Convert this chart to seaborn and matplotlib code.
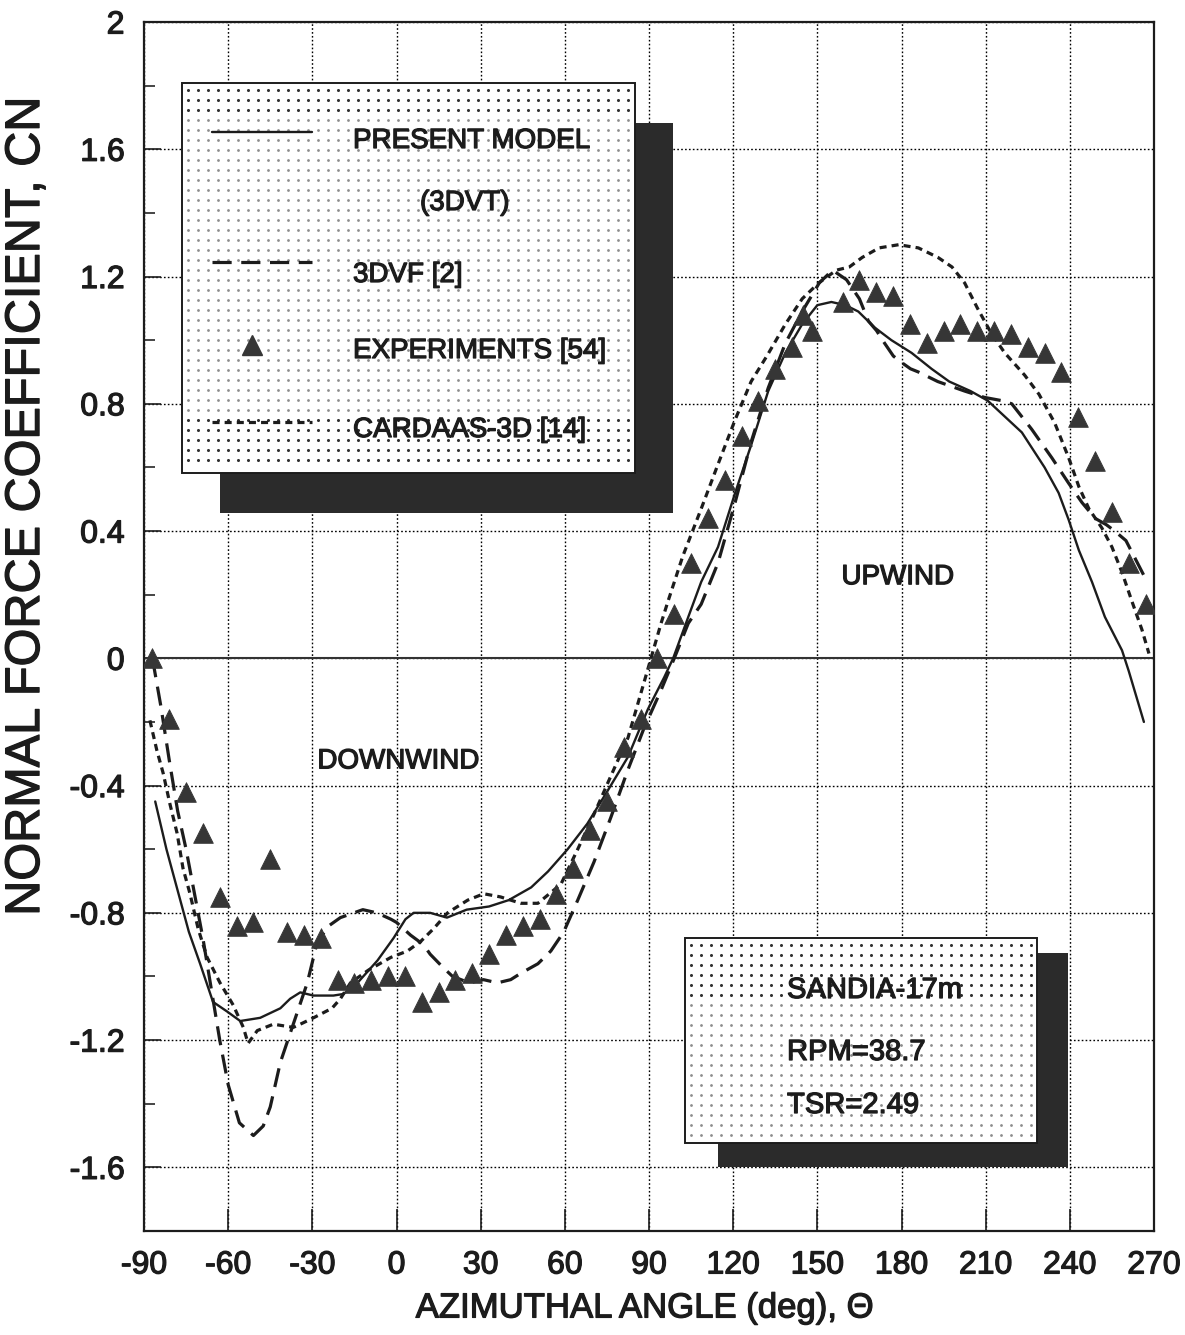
import numpy as np
import pandas as pd
import matplotlib
matplotlib.use("Agg")
import matplotlib.pyplot as plt
import matplotlib.patheffects as pe
from matplotlib.patches import Rectangle
from matplotlib.lines import Line2D
import seaborn as sns

# ---------------------------------------------------------------------------
# Normal force coefficient vs. azimuthal angle, Sandia 17 m rotor
# ---------------------------------------------------------------------------
present_theta = [-86, -82, -78, -74, -70, -65.4, -60.4, -55.7, -48.6, -41.4,
                 -37.9, -34.3, -29.6, -22.5, -18.9, -13.9, -6.8, -1.1, 3.2,
                 6.1, 12, 18, 25, 33, 40, 48, 54, 61, 68, 75, 82.5, 89.6,
                 95.4, 98.6, 104, 108.6, 114.6, 120.7, 126.4, 132.5, 138.6,
                 144.6, 150, 155, 160, 164.6, 170.4, 176.4, 183.6, 190.7,
                 197, 204.6, 210.7, 216.8, 222.9, 231, 236, 239.6, 243.2,
                 247.9, 252.5, 258.6, 261, 266.4]
present_cn = [-0.45, -0.60, -0.73, -0.86, -0.96, -1.08, -1.11, -1.14, -1.13,
              -1.10, -1.07, -1.05, -1.06, -1.06, -1.055, -1.02, -0.95, -0.88,
              -0.82, -0.80, -0.80, -0.815, -0.79, -0.78, -0.76, -0.72, -0.67,
              -0.60, -0.52, -0.42, -0.31, -0.16, -0.06, 0.0, 0.13, 0.24, 0.35,
              0.52, 0.67, 0.84, 0.96, 1.05, 1.11, 1.12, 1.11, 1.09, 1.04, 1.00,
              0.96, 0.91, 0.87, 0.84, 0.81, 0.76, 0.71, 0.60, 0.52, 0.435,
              0.34, 0.24, 0.13, 0.025, -0.04, -0.20]

vf_theta = [-87, -84, -81, -78, -75, -72, -69, -66, -63, -60, -56, -51, -47.5,
            -45, -41.4, -36.8, -31.8, -28.2, -24, -20, -12, -7, -2, 0, 5, 9.6,
            12, 16.4, 20, 26, 31, 36, 40.7, 44.3, 50.4, 55, 59.6, 64.6, 70.4,
            76.4, 82.5, 88.2, 94.3, 99, 104, 108.6, 114.6, 120.7, 126.4,
            132.5, 138.6, 144.6, 150.7, 155.4, 160.4, 165, 168.2, 171.1, 174,
            177.1, 180, 183.2, 186, 192.9, 202.5, 209.6, 215.7, 219.3, 226.4,
            233.6, 239.6, 244.3, 249, 253, 256, 260, 267]
vf_cn = [0.0, -0.15, -0.32, -0.48, -0.60, -0.74, -0.88, -1.04, -1.20, -1.34,
         -1.46, -1.50, -1.47, -1.41, -1.27, -1.15, -1.02, -0.89, -0.84, -0.815,
         -0.79, -0.80, -0.82, -0.83, -0.87, -0.90, -0.93, -0.97, -1.00, -1.02,
         -1.01, -1.02, -1.01, -0.99, -0.96, -0.92, -0.86, -0.76, -0.64, -0.50,
         -0.35, -0.22, -0.10, 0.0, 0.11, 0.17, 0.30, 0.49, 0.68, 0.85, 0.99,
         1.09, 1.18, 1.22, 1.19, 1.13, 1.06, 1.03, 0.99, 0.95, 0.93, 0.91,
         0.90, 0.87, 0.84, 0.82, 0.81, 0.80, 0.72, 0.63, 0.55, 0.49, 0.44,
         0.42, 0.40, 0.37, 0.25]

cardaas_theta = [-87.9, -85.4, -83.2, -80.7, -78.2, -76.1, -73.6, -70.7, -67.5,
                 -62.9, -58.2, -54.6, -52.9, -49.6, -43.9, -36.8, -34.3, -29.6,
                 -23, -20, -16.4, -10, -2, 3.9, 8.6, 13.2, 18.2, 25.4, 31.1,
                 37.1, 44.3, 50.4, 58.6, 64.6, 70.4, 76.4, 82.5, 87.1, 90.7,
                 94.3, 96.8, 102, 108.6, 114.6, 120.7, 126.4, 132, 138.6,
                 144.6, 150.5, 156.8, 161.4, 166, 172, 179, 186, 193, 198,
                 202.5, 207.1, 212.1, 216.8, 223.9, 229, 234.6, 239.6, 243.2,
                 246.8, 251.4, 255, 258.6, 262.1, 265.7, 268.2]
cardaas_cn = [-0.195, -0.29, -0.36, -0.46, -0.55, -0.66, -0.74, -0.85, -0.94,
              -1.02, -1.09, -1.16, -1.21, -1.17, -1.15, -1.16, -1.15, -1.13,
              -1.10, -1.07, -1.02, -0.98, -0.94, -0.92, -0.89, -0.85, -0.80,
              -0.76, -0.74, -0.75, -0.77, -0.77, -0.71, -0.60, -0.49, -0.37,
              -0.25, -0.11, 0.0, 0.11, 0.18, 0.32, 0.47, 0.61, 0.75, 0.87, 0.95,
              1.05, 1.13, 1.18, 1.22, 1.23, 1.26, 1.29, 1.30, 1.29, 1.26, 1.23,
              1.18, 1.10, 1.02, 0.96, 0.89, 0.83, 0.74, 0.63, 0.54, 0.47, 0.41,
              0.35, 0.27, 0.18, 0.09, 0.015]

exp_theta = [-87, -81, -75, -69, -63, -57, -51, -45, -39, -33, -27, -21, -15,
             -9, -3, 3, 9, 15, 21, 27, 33, 39, 45, 51, 57, 63, 69, 75, 81, 87,
             93, 99, 105, 111, 117, 123, 129, 135, 141, 145, 148, 159, 165,
             171, 177, 183, 189, 195, 201, 207, 213, 219, 225, 231, 237, 243,
             249, 255, 261, 267]
exp_cn = [0.00, -0.19, -0.42, -0.55, -0.75, -0.84, -0.83, -0.63, -0.86, -0.87,
          -0.88, -1.01, -1.02, -1.01, -1.00, -1.00, -1.08, -1.05, -1.01, -0.99,
          -0.93, -0.87, -0.84, -0.82, -0.74, -0.66, -0.54, -0.45, -0.28, -0.19,
          0.00, 0.14, 0.30, 0.44, 0.56, 0.70, 0.81, 0.91, 0.98, 1.08, 1.03,
          1.12, 1.19, 1.15, 1.14, 1.05, 0.99, 1.03, 1.05, 1.03, 1.03, 1.02,
          0.98, 0.96, 0.90, 0.76, 0.62, 0.46, 0.30, 0.17]

x_ticks = [-90, -60, -30, 0, 30, 60, 90, 120, 150, 180, 210, 240, 270]
y_ticks = [-1.6, -1.2, -0.8, -0.4, 0, 0.4, 0.8, 1.2, 1.6, 2.0]
y_tick_labels = ["-1.6", "-1.2", "-0.8", "-0.4", "0", "0.4", "0.8", "1.2",
                 "1.6", "2"]
y_minor = [-1.4, -1.0, -0.6, -0.2, 0.2, 0.6, 1.0, 1.4, 1.8]

legend_labels = ["PRESENT MODEL", "(3DVT)", "3DVF [2]", "EXPERIMENTS [54]",
                 "CARDAAS-3D [14]"]
case_lines = ["SANDIA-17m", "RPM=38.7", "TSR=2.49"]

# ---------------------------------------------------------------------------
sns.set_style("ticks")
plt.rcParams["font.family"] = ["Liberation Sans", "DejaVu Sans"]

ink = "#1c1c1c"
heavy = [pe.withStroke(linewidth=0.9, foreground=ink)]

W, H = 1185, 1335
AX_L, AX_R, AX_T, AX_B = 144, 1154, 22, 1231
fig = plt.figure(figsize=(W / 100, H / 100), dpi=100)
ax = fig.add_axes([AX_L / W, 1 - AX_B / H, (AX_R - AX_L) / W,
                   (AX_B - AX_T) / H])


def to_axes(px, py):
    """Pixel position on the page -> axes fraction."""
    return (np.asarray(px, float) - AX_L) / (AX_R - AX_L), \
        (AX_B - np.asarray(py, float)) / (AX_B - AX_T)


df_present = pd.DataFrame({"theta": present_theta, "cn": present_cn})
df_vf = pd.DataFrame({"theta": vf_theta, "cn": vf_cn})
df_card = pd.DataFrame({"theta": cardaas_theta, "cn": cardaas_cn})
df_exp = pd.DataFrame({"theta": exp_theta, "cn": exp_cn})

ax.axhline(0, color="#333333", lw=1.5, zorder=1.5)

dash_long = (0, (6, 3))
dash_short = (0, (2.2, 1.6))

sns.lineplot(data=df_present, x="theta", y="cn", ax=ax, sort=False,
             estimator=None, color=ink, lw=1.7, zorder=2)
sns.lineplot(data=df_vf, x="theta", y="cn", ax=ax, sort=False,
             estimator=None, color=ink, lw=2.3, linestyle=dash_long, zorder=2)
sns.lineplot(data=df_card, x="theta", y="cn", ax=ax, sort=False,
             estimator=None, color=ink, lw=2.3, linestyle=dash_short, zorder=2)
sns.scatterplot(data=df_exp, x="theta", y="cn", ax=ax, marker="^", s=200,
                color="#363636", edgecolor="#363636", linewidth=0.6, zorder=3)

ax.set_xlim(-90, 270)
ax.set_ylim(-1.8, 2.0)
ax.set_xticks(x_ticks)
ax.set_xticklabels([str(v) for v in x_ticks])
ax.set_yticks(y_ticks)
ax.set_yticklabels(y_tick_labels)
ax.set_yticks(y_minor, minor=True)

ax.set_axisbelow(True)
ax.grid(True, which="major", color="black", lw=1.0, linestyle=(0, (1.2, 1.6)))
ax.grid(False, which="minor")

ax.tick_params(axis="x", which="major", direction="in", length=16, width=1.2,
               pad=14, labelsize=23, colors=ink, bottom=True, top=False)
ax.tick_params(axis="y", which="major", direction="in", length=12, width=1.2,
               pad=14, labelsize=23, colors=ink, left=True, right=False)
ax.tick_params(axis="y", which="minor", direction="in", length=8, width=1.2,
               left=True, right=False)
for lab in ax.get_xticklabels() + ax.get_yticklabels():
    lab.set_path_effects(heavy)

for sp in ax.spines.values():
    sp.set_visible(True)
    sp.set_color(ink)
    sp.set_linewidth(1.6)

ax.set_xlabel("AZIMUTHAL ANGLE (deg), \u0398", fontsize=25, color=ink,
              path_effects=heavy)
ax.xaxis.set_label_coords(0.496, -0.050)
ax.set_ylabel("NORMAL FORCE COEFFICIENT, CN", fontsize=35, color=ink,
              path_effects=heavy)
ax.yaxis.set_label_coords(-0.094, 0.600)

ax.text(-28.2, -0.346, "DOWNWIND", fontsize=20, color=ink, va="baseline",
        ha="left", zorder=3, path_effects=heavy)
ax.text(158.6, 0.233, "UPWIND", fontsize=20, color=ink, va="baseline",
        ha="left", zorder=3, path_effects=heavy)


def stippled_box(box, shadow, dark_rows):
    """Dotted panel with a solid drop shadow (page pixel corners)."""
    sx0, sy0 = to_axes(shadow[0], shadow[3])
    sx1, sy1 = to_axes(shadow[2], shadow[1])
    ax.add_patch(Rectangle((sx0, sy0), sx1 - sx0, sy1 - sy0,
                           transform=ax.transAxes, facecolor="#2b2b2b",
                           edgecolor="none", zorder=4))
    x0, y0 = to_axes(box[0], box[3])
    x1, y1 = to_axes(box[2], box[1])
    ax.add_patch(Rectangle((x0, y0), x1 - x0, y1 - y0, transform=ax.transAxes,
                           facecolor="white", edgecolor="none", zorder=4.1))
    cols = np.arange(box[0] + 6, box[2] - 3, 10.0)
    rows = np.arange(box[1] + 7, box[3] - 3, 10.0)
    gx, gy = np.meshgrid(cols, rows)
    dark = dark_rows(gy)
    for mask, col, size in ((~dark, "#8c8c8c", 2.0), (dark, "#303030", 2.2)):
        ax_x, ax_y = to_axes(gx[mask], gy[mask])
        ax.plot(ax_x, ax_y, linestyle="none", marker="o", ms=size,
                mew=0, color=col, transform=ax.transAxes, zorder=4.2)
    ax.add_patch(Rectangle((x0, y0), x1 - x0, y1 - y0, transform=ax.transAxes,
                           fill=False, edgecolor=ink, lw=1.4, zorder=4.4))


# legend panel
stippled_box((182, 83, 635, 473), (220, 123, 673, 513),
             lambda y: (y < 115) | (y > 418))
kw = dict(transform=ax.transAxes, fontsize=20, color=ink, va="baseline",
          ha="left", zorder=5, path_effects=heavy)
lx0, _ = to_axes(212, 0)
lx1, _ = to_axes(312, 0)
_, ly = to_axes(0, [132, 262, 422])
ax.add_line(Line2D([lx0, lx1], [ly[0]] * 2, transform=ax.transAxes,
                   color=ink, lw=1.7, zorder=5))
ax.add_line(Line2D([lx0, lx1], [ly[1]] * 2, transform=ax.transAxes,
                   color=ink, lw=2.3, linestyle=dash_long, zorder=5))
ax.add_line(Line2D([lx0, lx1], [ly[2]] * 2, transform=ax.transAxes,
                   color=ink, lw=2.3, linestyle=dash_short, zorder=5))
mx, my = to_axes(252, 345)
ax.add_line(Line2D([mx], [my], transform=ax.transAxes, marker="^",
                   ms=14, color="#363636", lw=0, zorder=5))
tx, _ = to_axes(353, 0)
tx2, _ = to_axes(420, 0)
_, tys = to_axes(0, [148, 210, 282, 358, 437])
ax.text(tx, tys[0], legend_labels[0], **kw)
ax.text(tx2, tys[1], legend_labels[1], **kw)
ax.text(tx, tys[2], legend_labels[2], **kw)
ax.text(tx, tys[3], legend_labels[3], **kw)
ax.text(tx, tys[4], legend_labels[4], **kw)

# case panel
stippled_box((685, 938, 1037, 1143), (718, 953, 1068, 1167),
             lambda y: y < 1002)
kw2 = dict(transform=ax.transAxes, fontsize=21, color=ink, va="baseline",
           ha="left", zorder=5, path_effects=heavy)
cx, _ = to_axes(787, 0)
_, cys = to_axes(0, [998, 1060, 1113])
for txt, cy in zip(case_lines, cys):
    ax.text(cx, cy, txt, **kw2)

fig.savefig("out.png", dpi=100, facecolor="white")
